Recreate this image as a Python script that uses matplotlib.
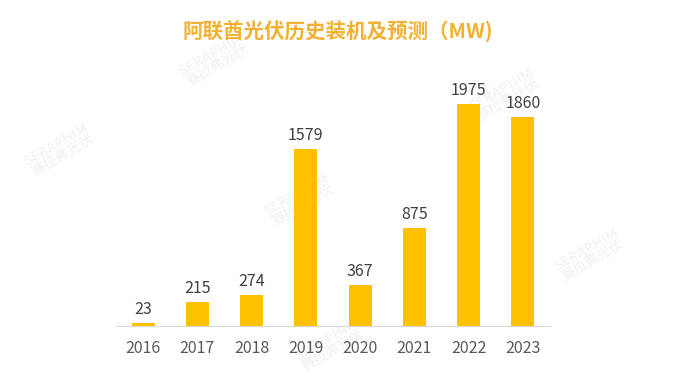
import matplotlib
matplotlib.use("Agg")
import matplotlib.pyplot as plt

plt.rcParams['font.family'] = ['Noto Sans CJK SC', 'DejaVu Sans']

years = ["2016", "2017", "2018", "2019", "2020", "2021", "2022", "2023"]
values = [23, 215, 274, 1579, 367, 875, 1975, 1860]
title = "阿联酋光伏历史装机及预测（MW)"

W, H = 680, 381
fig = plt.figure(figsize=(W / 100, H / 100), dpi=100)
ax = fig.add_axes([116 / W, (H - 326) / H, (550 - 116) / W, (326 - 79) / H])

# faint watermarks
for (x, y) in [(215, 60), (60, 150), (300, 200), (590, 255), (505, 95), (330, 345)]:
    fig.text(x / W, 1 - y / H, "SERAPHIM\n赛拉弗光伏", rotation=30, color="#F4F4F4",
             fontsize=10, fontweight="bold", ha="center", va="center", zorder=-1,
             linespacing=0.9)

x = range(len(years))
bars = ax.bar(x, values, width=0.42, color="#FFC000", zorder=2)
for xi, v in zip(x, values):
    ax.text(xi, v + 45, str(v), ha="center", va="bottom", fontsize=11.5, color="#404040")

ax.set_xlim(-0.5, len(years) - 0.5)
ax.set_ylim(0, 2200)
ax.set_xticks(list(x))
ax.set_xticklabels(years, fontsize=11.5, color="#595959")
ax.tick_params(axis="x", length=0, pad=10)
ax.set_yticks([])
for s in ["top", "right", "left"]:
    ax.spines[s].set_visible(False)
ax.spines["bottom"].set_color("#D9D9D9")
ax.patch.set_alpha(0)

fig.text(338 / W, 1 - 31 / H, title, ha="center", va="center", fontsize=14.8,
         fontweight="bold", color="#F2B132")

fig.savefig("out.png", dpi=100)
